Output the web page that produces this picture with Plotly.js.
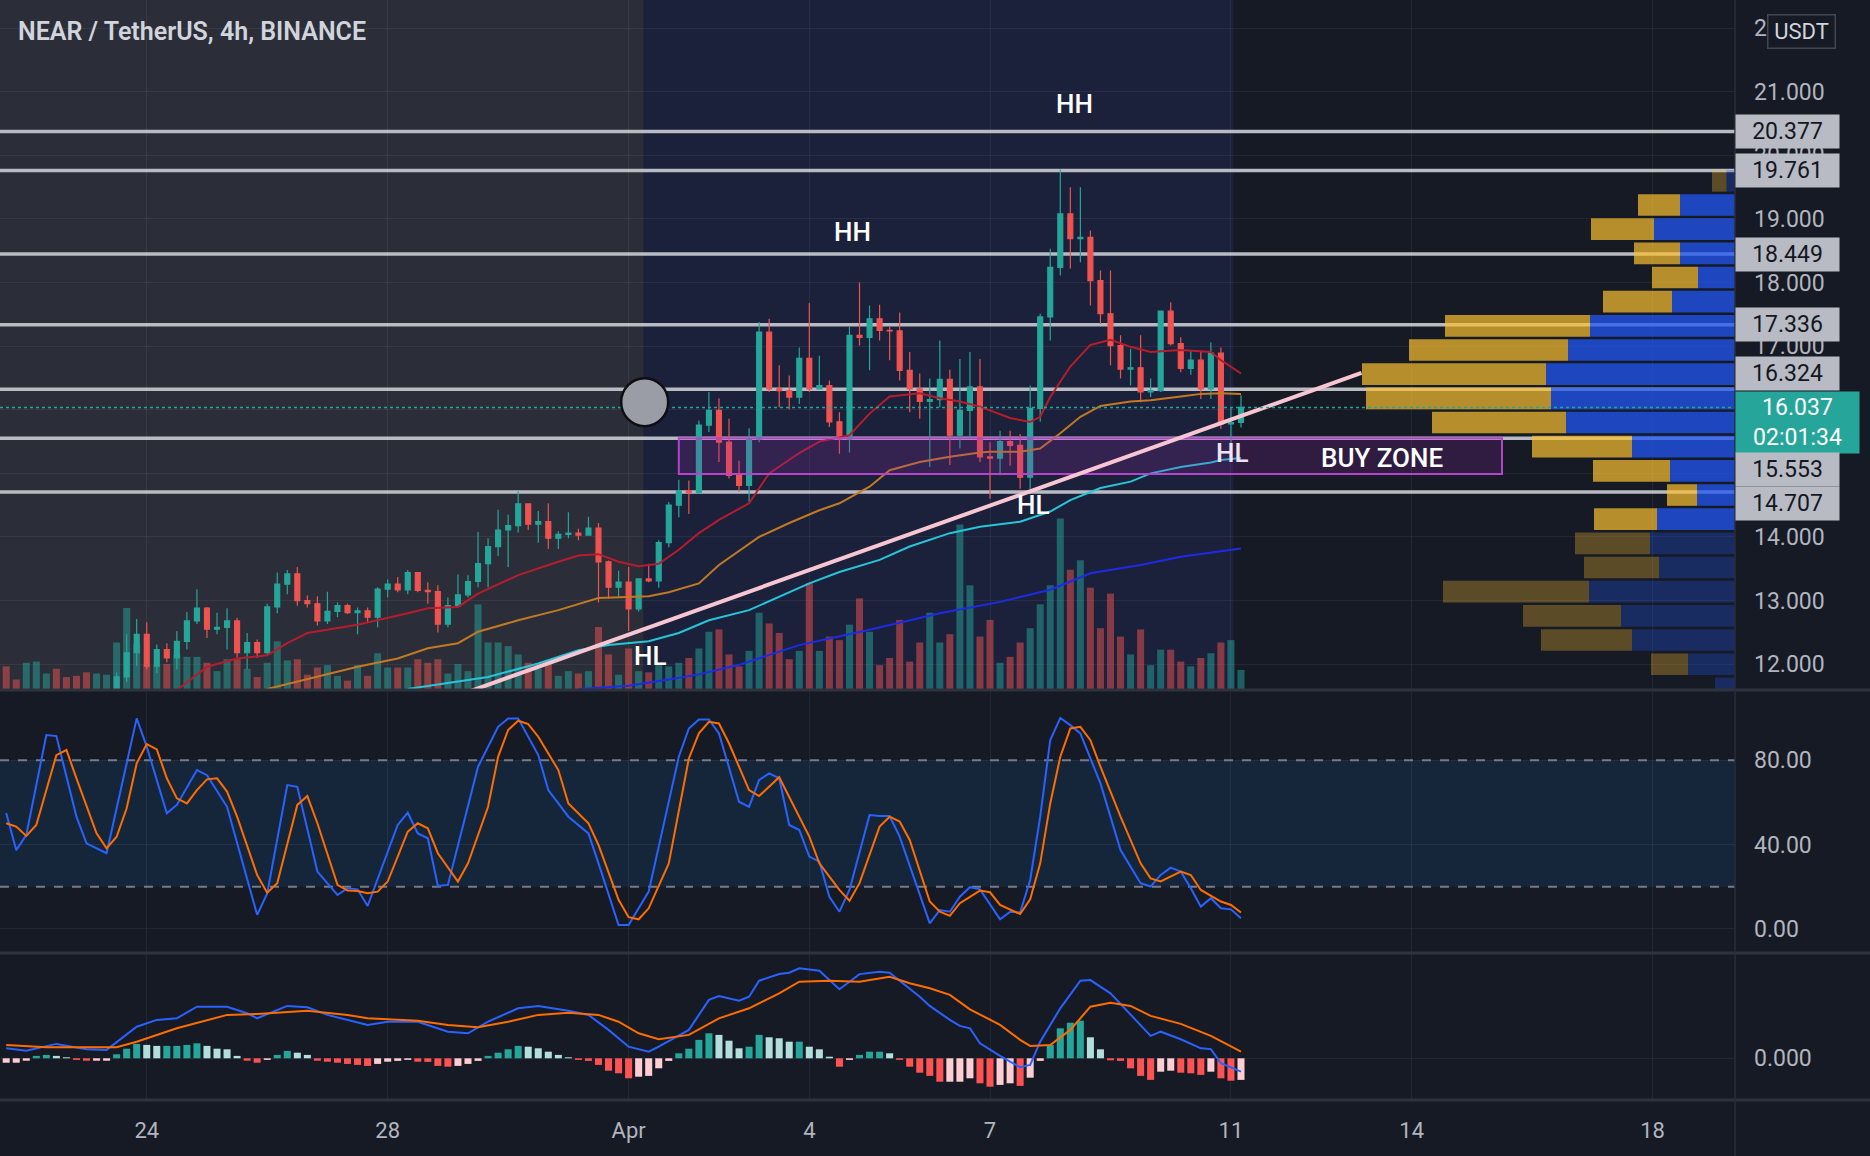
<!DOCTYPE html>
<html><head><meta charset="utf-8">
<script src="https://cdn.plot.ly/plotly-3.0.1.min.js"></script>
<style>html,body{margin:0;padding:0;background:#161a25;}#chart{width:1870px;height:1156px;}</style>
</head><body><div id="chart"></div>
<script>
// ---------- DATA ----------
const openP = [11.30,11.22,11.18,11.34,11.46,11.50,11.40,11.36,11.31,11.26,11.35,
11.45,11.80,12.18,12.47,11.97,12.23,12.10,12.36,12.68,12.88,
12.55,12.58,12.68,12.18,12.34,12.18,12.90,13.26,13.42,13.00,
12.95,12.68,12.83,12.92,12.81,12.84,12.74,13.18,13.26,13.17,
13.44,13.16,13.14,12.63,12.92,13.09,13.30,13.58,13.85,14.11,
14.18,14.52,14.20,14.24,13.98,14.04,14.06,14.03,14.14,13.61,
13.21,13.29,12.87,13.34,13.31,13.91,14.50,14.73,14.70,15.76,
15.99,15.49,14.97,14.81,15.54,17.22,16.33,16.30,16.20,16.81,
16.33,16.38,15.81,15.54,17.17,17.14,17.43,17.25,17.24,16.62,
16.33,16.13,16.16,16.48,15.60,15.99,16.36,15.26,15.24,15.50,
15.44,14.94,16.02,17.46,18.24,19.08,18.69,18.71,18.03,17.51,
17.01,16.64,16.66,16.28,16.30,17.55,17.04,16.65,16.78,16.33,
16.89,15.78,15.80];
const highP = [11.42,11.30,11.38,11.50,11.55,11.53,11.45,11.40,11.35,11.38,11.50,
11.87,12.47,12.71,12.66,12.31,12.33,12.52,12.82,13.18,12.90,
12.81,12.88,12.73,12.49,12.39,12.95,13.44,13.48,13.53,13.08,
13.07,13.14,12.97,12.95,12.89,12.89,13.21,13.33,13.37,13.48,
13.45,13.29,13.24,13.05,13.41,13.40,14.08,13.98,14.43,14.35,
14.72,14.53,14.41,14.53,14.09,14.39,14.13,14.32,14.22,13.63,
13.47,13.53,13.35,13.58,13.95,14.55,14.90,14.89,15.83,16.28,
16.18,15.86,15.20,15.71,17.38,17.43,16.70,16.54,16.98,17.68,
16.85,16.46,15.96,17.30,18.00,17.64,17.65,17.30,17.53,16.91,
16.57,16.49,17.09,16.63,16.80,16.91,16.80,15.49,15.67,15.67,
15.62,16.38,17.51,18.53,19.78,19.50,19.50,18.82,18.19,18.19,
17.17,16.96,17.17,16.49,17.56,17.69,17.14,16.93,16.93,17.06,
16.98,16.03,16.23];
const lowP = [11.20,11.15,11.16,11.30,11.40,11.36,11.33,11.28,11.22,11.24,11.32,
11.40,11.72,11.97,11.92,11.86,12.03,11.92,12.23,12.63,12.41,
12.47,12.23,12.10,11.92,12.10,12.15,12.80,13.10,12.92,12.89,
12.61,12.63,12.74,12.79,12.47,12.66,12.58,13.05,13.13,13.10,
13.13,12.95,12.50,12.58,12.89,13.05,13.21,13.21,13.70,13.53,
14.07,14.11,13.91,13.81,13.81,13.98,13.95,14.02,12.97,13.03,
13.05,12.52,12.83,13.29,13.20,13.84,14.31,14.36,14.68,15.65,
15.18,14.92,14.71,14.55,15.49,16.28,16.04,16.01,16.09,16.28,
16.32,15.73,15.31,15.33,17.01,16.62,17.09,16.78,16.46,15.96,
15.86,15.10,16.04,15.13,15.39,15.57,15.18,14.60,14.97,15.12,
14.76,14.76,15.81,17.09,18.11,18.22,18.32,17.64,17.35,16.70,
16.49,16.38,16.12,16.20,16.28,17.01,16.59,16.55,16.17,16.17,
15.70,15.45,15.72];
const closeP = [11.22,11.18,11.34,11.46,11.50,11.40,11.36,11.31,11.26,11.35,11.45,
11.80,12.18,12.47,11.97,12.23,12.10,12.36,12.68,12.88,12.55,
12.58,12.68,12.18,12.34,12.18,12.90,13.26,13.42,13.00,12.95,
12.68,12.83,12.92,12.81,12.84,12.74,13.18,13.26,13.17,13.44,
13.16,13.14,12.63,12.92,13.09,13.30,13.58,13.85,14.11,14.18,
14.52,14.20,14.24,13.98,14.04,14.06,14.03,14.14,13.61,13.21,
13.29,12.87,13.34,13.31,13.91,14.50,14.73,14.70,15.76,15.99,
15.49,14.97,14.81,15.54,17.22,16.33,16.30,16.20,16.81,16.33,
16.38,15.81,15.54,17.17,17.14,17.43,17.25,17.24,16.62,16.33,
16.13,16.16,16.48,15.60,15.99,16.36,15.26,15.24,15.50,15.44,
14.94,16.02,17.46,18.24,19.08,18.69,18.71,18.03,17.51,17.01,
16.64,16.66,16.28,16.30,17.55,17.04,16.65,16.78,16.33,16.89,
15.78,15.80,16.037];
const volume = [1.9,0.8,2.2,2.3,1.3,1.7,1.0,1.1,1.4,1.3,1.2,
3.9,6.8,3.8,2.0,2.0,2.1,2.9,2.7,2.7,2.2,
1.5,2.5,2.5,1.7,1.0,2.2,4.0,2.4,2.5,1.2,
1.8,2.0,1.1,0.7,2.0,1.1,3.0,1.8,1.8,1.8,
2.5,2.2,2.5,1.3,2.1,1.5,7.1,3.9,3.9,3.6,
2.9,2.2,1.7,2.2,1.1,1.5,1.3,1.5,5.2,2.9,
1.2,3.4,1.5,1.4,2.0,1.9,2.2,2.6,3.4,4.8,
5.0,2.9,1.9,3.2,6.4,5.5,4.7,2.5,3.2,8.9,
3.2,4.4,4.1,5.4,7.6,4.8,2.0,2.6,5.8,2.3,
3.9,6.4,3.9,4.6,13.8,8.7,4.4,5.8,2.2,2.7,
3.9,5.1,7.1,8.7,14.3,10.0,10.8,8.5,5.1,8.0,
4.4,2.9,5.0,2.0,3.3,3.3,2.3,1.9,2.6,3.0,
3.9,4.1,1.6];

// moving averages (candle index, value)
const maRedIdx = [17,20,23,26,28,30,35,37,40,42,45,47,51,55,57,59,61,63,65,67,69,71,74,76,79,81,84,86,88,91,93,95,97,100,102,103,104,106,108,110,112,114,117,120,121,123];
const maRed = [11.59,11.96,12.09,12.14,12.33,12.49,12.62,12.69,12.80,12.88,12.90,13.11,13.40,13.61,13.71,13.73,13.61,13.54,13.58,13.80,14.06,14.27,14.53,15.00,15.32,15.50,15.60,15.94,16.21,16.26,16.18,16.13,16.05,15.87,15.81,15.89,16.20,16.68,17.02,17.10,16.99,16.91,16.94,16.91,16.78,16.57];
const maOrangeIdx = [26,31,35,39,42,45,47,51,55,59,62,64,66,69,71,75,78,81,83,86,88,91,94,97,98,101,103,105,107,109,112,114,117,119,121,123];
const maOrange = [11.61,11.80,11.96,12.09,12.25,12.33,12.51,12.69,12.85,13.04,13.06,13.07,13.13,13.27,13.56,14.00,14.22,14.42,14.53,14.79,15.05,15.18,15.26,15.33,15.34,15.34,15.39,15.63,15.89,16.06,16.13,16.15,16.21,16.25,16.26,16.25];
const maCyanIdx = [40,44,48,53,57,60,64,67,70,74,77,80,83,87,90,94,97,101,104,106,109,112,114,117,120,121,123];
const maCyan = [11.61,11.70,11.80,12.01,12.22,12.30,12.36,12.49,12.69,12.85,13.06,13.27,13.45,13.64,13.85,14.06,14.16,14.24,14.40,14.58,14.77,14.87,15.00,15.10,15.17,15.21,15.24];
const maBlueIdx = [57,62,66,69,73,79,86,93,99,104,108,113,117,123];
const maBlue = [11.61,11.66,11.76,11.84,11.99,12.30,12.54,12.80,12.98,13.17,13.43,13.56,13.69,13.82];

// stochastic
const stochKIdx = [0,1,2,4,5,7,8,10,13,14,16,17,19,20,22,25,26,28,29,31,33,34,35,36,39,40,41,42,43,44,47,49,50,51,53,54,56,58,59,61,62,64,67,68,69,70,71,73,74,75,76,77,78,79,80,81,82,83,84,86,87,88,89,92,93,94,95,96,97,99,100,101,102,103,104,105,106,107,109,111,113,114,115,116,117,118,119,120,121,122,123];
const stochK = [55,37.4,44.5,91.9,91.4,53.2,40.6,35.9,99.8,86.4,54.8,58.8,75.3,72.9,57.9,6.7,16.9,68.2,67.4,27.2,16.1,19.3,18.8,10.9,49.3,55.1,45.3,43.0,20.4,20.9,76.9,95.8,99.8,99.8,82.4,65.8,53.2,45.3,31.1,1.9,1.9,17.7,81.6,95.0,99.3,99.3,92.7,60.3,57.9,70.6,73.7,71.4,49.3,46.9,34.3,31.9,15.3,8.2,18.5,54.0,53.5,53.5,43.8,2.7,9.0,8.2,15.3,19.8,18.8,4.6,8.2,7.8,23.2,53.2,89.5,100,96.6,92.7,69.0,37.4,21.7,20.1,25.6,29.1,27.2,19.3,10.6,14.6,9.8,9.3,5.1];
const stochDIdx = [0,1,2,3,5,6,7,9,10,11,12,13,14,15,16,17,18,19,20,21,22,23,25,26,27,29,30,31,33,34,35,36,37,38,40,41,42,43,45,46,48,49,50,51,52,53,55,56,58,59,61,62,63,64,66,68,69,70,71,72,74,75,77,78,80,81,83,84,85,87,88,89,90,92,93,94,95,97,98,99,101,102,103,104,105,106,107,108,109,111,113,114,115,117,118,119,121,122,123];
const stochD = [50.1,48.5,44.1,49.3,82.4,84.8,71.4,45.3,38.2,43.7,57.2,78.5,87.6,85.1,71.4,61.9,59.5,65.8,70.9,71.4,65.1,53.2,25.6,17.2,21.7,58.8,63.0,50.1,20.9,18.2,18.0,16.9,17.7,22.5,46.1,50.1,47.7,35.9,22.5,31.1,57.9,81.6,94.3,98.7,97.1,91.1,75.3,59.5,50.1,39.8,13.8,5.6,4.6,9.8,31.1,80.8,92.7,98.2,97.4,88.0,65.8,63.0,71.9,62.7,43.8,31.1,18.5,13.4,21.7,48.5,53.2,50.9,42.2,13,8.2,6.2,12.2,18.2,17.4,11.4,7.1,14.1,31.1,59.5,81.6,95.0,95.8,89.5,76.9,53.2,31.1,24.0,22.5,27.2,25.6,18.5,13.0,11.4,7.8];

// MACD
const macdIdx = [0,2,5,8,10,13,15,17,19,22,24,25,28,30,32,34,36,38,41,44,46,48,51,53,56,58,60,62,64,65,68,70,71,73,74,75,77,78,79,81,83,85,87,88,91,92,94,95,96,97,99,101,102,103,105,107,108,110,112,114,115,117,119,120,121,123];
const macdLine = [0.050,0.038,0.072,0.045,0.042,0.158,0.192,0.200,0.258,0.258,0.225,0.200,0.262,0.255,0.217,0.192,0.167,0.183,0.183,0.133,0.125,0.183,0.250,0.262,0.238,0.217,0.142,0.058,0.033,0.058,0.142,0.292,0.311,0.288,0.308,0.388,0.421,0.428,0.450,0.438,0.345,0.421,0.433,0.428,0.308,0.262,0.192,0.162,0.150,0.075,0.012,-0.045,-0.033,0.083,0.250,0.388,0.391,0.325,0.217,0.112,0.133,0.095,0.050,0.046,-0.025,-0.067];
const sigIdx = [0,4,11,13,17,22,25,28,30,34,36,41,44,47,50,53,56,59,61,63,65,68,71,74,77,79,82,85,88,90,92,94,96,99,101,102,104,106,108,110,112,114,117,120,123];
const sigLine = [0.067,0.055,0.055,0.083,0.150,0.217,0.222,0.233,0.238,0.217,0.200,0.188,0.167,0.155,0.183,0.217,0.228,0.217,0.183,0.125,0.095,0.117,0.200,0.250,0.325,0.383,0.388,0.383,0.408,0.375,0.350,0.317,0.245,0.167,0.092,0.062,0.066,0.142,0.258,0.278,0.262,0.212,0.172,0.112,0.033];
const macdHist = [-0.022,-0.022,-0.012,0.012,0.017,0.012,0.005,-0.008,-0.012,-0.012,
-0.012,0.020,0.048,0.072,0.067,0.062,0.062,0.062,0.067,0.075,
0.062,0.048,0.045,0.012,-0.012,-0.022,-0.008,0.017,0.037,0.028,
0.017,-0.012,-0.017,-0.022,-0.028,-0.033,-0.038,-0.028,-0.017,-0.013,
-0.008,-0.017,-0.018,-0.038,-0.042,-0.038,-0.028,-0.013,0.012,0.028,
0.045,0.062,0.058,0.050,0.033,0.017,0.005,-0.008,-0.013,-0.033,
-0.062,-0.075,-0.100,-0.092,-0.088,-0.050,-0.013,0.025,0.048,0.092,
0.125,0.117,0.088,0.050,0.058,0.117,0.105,0.100,0.083,0.083,
0.058,0.045,0.008,-0.042,-0.008,0.017,0.033,0.033,0.025,-0.008,
-0.042,-0.072,-0.088,-0.117,-0.117,-0.117,-0.100,-0.125,-0.142,-0.133,
-0.125,-0.138,-0.097,-0.013,0.067,0.150,0.178,0.188,0.105,0.045,
-0.010,-0.013,-0.050,-0.088,-0.108,-0.067,-0.062,-0.072,-0.075,-0.083,
-0.067,-0.100,-0.112,-0.108];

// volume profile rows
const vpPrice = [19.60,19.22,18.84,18.46,18.08,17.70,17.32,16.94,16.56,16.18,15.80,15.42,15.04,14.66,14.28,13.90,13.52,13.14,12.76,12.38,12.00,11.62];
const vpUp = [0.85,5.5,8.1,5.5,3.7,6.3,14.5,16.7,18.9,18.4,16.9,10.3,6.5,3.8,7.8,8.5,7.6,14.6,11.4,10.3,4.7,2.0];
const vpDown = [1.45,4.2,6.3,4.6,4.6,6.9,14.5,15.9,18.4,18.5,13.4,10.0,7.7,3.0,6.3,7.5,7.5,14.6,9.8,9.1,3.7,0];
const vpInValueArea = [false,true,true,true,true,true,true,true,true,true,true,true,true,true,true,false,false,false,false,false,false,false];

// levels and labels
const levels = [20.377,19.761,18.449,17.336,16.324,15.553,14.707];
const lastPrice = 16.037;
const countdown = '02:01:34';
const dateTickVals = ['2022-03-24','2022-03-28','2022-04-01','2022-04-04','2022-04-07','2022-04-11','2022-04-14','2022-04-18'];
const dateTickText = ['24','28','Apr','4','7','11','14','18'];
const priceTickText = '.3f';

// ---------- HELPERS ----------
const T0 = Date.UTC(2022, 2, 21, 16, 0);
const H4 = 4 * 3600 * 1000;
function ts(i){ return new Date(T0 + i * H4).toISOString().slice(0,19).replace('T',' '); }
const times = openP.map((_, i) => ts(i));
const xRange = ['2022-03-21 13:32', '2022-04-19 08:50'];

const UP = '#26a69a', DN = '#ef5350';
const volColors = openP.map((o, i) => closeP[i] >= o ? 'rgba(38,166,154,0.5)' : 'rgba(239,83,80,0.5)');
const histColors = macdHist.map((v, i) => {
  const p = i > 0 ? macdHist[i-1] : v;
  if (v >= 0) return v >= p ? '#26a69a' : '#b2dfdb';
  return v < p ? '#ff5252' : '#ffcdd2';
});

const traces = [];
traces.push({type:'bar', x:times, y:volume, xaxis:'x', yaxis:'y4', marker:{color:volColors, line:{width:0}}, width:0.7*H4, hoverinfo:'skip'});
traces.push({type:'candlestick', x:times, open:openP, high:highP, low:lowP, close:closeP, xaxis:'x', yaxis:'y',
  increasing:{line:{color:UP, width:1.2}, fillcolor:UP}, decreasing:{line:{color:DN, width:1.2}, fillcolor:DN}, whiskerwidth:0, hoverinfo:'skip'});
function ma(idx, vals, color){ return {type:'scatter', mode:'lines', x:idx.map(ts), y:vals, xaxis:'x', yaxis:'y', line:{color:color, width:2}, hoverinfo:'skip'}; }
traces.push(ma(maBlueIdx, maBlue, '#1e2be6'));
traces.push(ma(maCyanIdx, maCyan, '#26c6da'));
traces.push(ma(maOrangeIdx, maOrange, '#c27a22'));
traces.push(ma(maRedIdx, maRed, '#b71c2c'));
// volume profile
traces.push({type:'bar', orientation:'h', y:vpPrice, x:vpUp, xaxis:'x5', yaxis:'y', width:0.34,
  marker:{color:vpInValueArea.map(v => v ? 'rgba(33,87,243,0.75)' : 'rgba(33,87,243,0.3)'), line:{width:0}}, hoverinfo:'skip'});
traces.push({type:'bar', orientation:'h', y:vpPrice, x:vpDown, base:vpUp, xaxis:'x5', yaxis:'y', width:0.34,
  marker:{color:vpInValueArea.map(v => v ? 'rgba(251,192,45,0.7)' : 'rgba(251,192,45,0.3)'), line:{width:0}}, hoverinfo:'skip'});
// stochastic
traces.push({type:'scatter', mode:'lines', x:stochKIdx.map(ts), y:stochK, xaxis:'x', yaxis:'y2', line:{color:'#2962ff', width:2}, hoverinfo:'skip'});
traces.push({type:'scatter', mode:'lines', x:stochDIdx.map(ts), y:stochD, xaxis:'x', yaxis:'y2', line:{color:'#ff6d00', width:2}, hoverinfo:'skip'});
// macd
traces.push({type:'bar', x:times, y:macdHist, xaxis:'x', yaxis:'y3', marker:{color:histColors, line:{width:0}}, width:0.7*H4, hoverinfo:'skip'});
traces.push({type:'scatter', mode:'lines', x:macdIdx.map(ts), y:macdLine, xaxis:'x', yaxis:'y3', line:{color:'#2962ff', width:2}, hoverinfo:'skip'});
traces.push({type:'scatter', mode:'lines', x:sigIdx.map(ts), y:sigLine, xaxis:'x', yaxis:'y3', line:{color:'#ff6d00', width:2}, hoverinfo:'skip'});

// ---------- LAYOUT ----------
const GRID = 'rgba(255,255,255,0.06)';
const LBL = '#b2b5be';
const FONT = 'Roboto, "Noto Sans", sans-serif';
const mainDom = [0.37364, 1], stochDom = [0.13455, 0.37091], macdDom = [0, 0.13273];
const LEVEL_COL = '#b8bbc3';

const shapes = [];
// background highlight regions
shapes.push({type:'rect', xref:'x', yref:'paper', x0:xRange[0], x1:'2022-04-01 06:00', y0:mainDom[0], y1:1, fillcolor:'#2b2e38', line:{width:0}, layer:'below'});
shapes.push({type:'rect', xref:'x', yref:'paper', x0:'2022-04-01 06:00', x1:'2022-04-11 01:00', y0:mainDom[0], y1:1, fillcolor:'#1b213a', line:{width:0}, layer:'below'});
// stochastic band + dashed bounds
shapes.push({type:'rect', xref:'paper', yref:'y2', x0:0, x1:1, y0:20, y1:80, fillcolor:'rgba(33,150,243,0.1)', line:{width:0}, layer:'below'});
[20, 80].forEach(v => shapes.push({type:'line', xref:'x', yref:'y2', x0:xRange[0], x1:xRange[1], y0:v, y1:v, line:{color:'#787b86', width:2, dash:'dash'}, layer:'between'}));
// horizontal levels (drawn beneath the series and the volume profile)
levels.forEach(v => shapes.push({type:'line', xref:'paper', yref:'y', x0:0, x1:1, y0:v, y1:v, line:{color:LEVEL_COL, width:3.5}, layer:'below'}));
// buy zone
shapes.push({type:'rect', xref:'x', yref:'y', x0:ts(67.0), x1:ts(149.0), y0:14.99, y1:15.553, fillcolor:'rgba(156,39,176,0.2)', line:{color:'#b543cc', width:2}, layer:'above'});
// trend line
shapes.push({type:'line', xref:'x', yref:'y', x0:ts(46.3), y0:11.58, x1:ts(135.0), y1:16.58, line:{color:'#f8c6d2', width:4}, layer:'above'});
// last price dotted line
shapes.push({type:'line', xref:'paper', yref:'y', x0:0, x1:1, y0:lastPrice, y1:lastPrice, line:{color:'#26a69a', width:1.5, dash:'dot'}, layer:'above'});
// grey circle marker
shapes.push({type:'circle', xref:'x', yref:'y', xsizemode:'pixel', ysizemode:'pixel', xanchor:ts(63.6), yanchor:16.12, x0:-23.5, x1:23.5, y0:-24, y1:24, fillcolor:'#9a9da6', line:{color:'#0d0f14', width:2.5}, layer:'above'});
// pane separators
const RX = 1870/1735;
shapes.push({type:'line', xref:'paper', yref:'paper', x0:0, x1:RX, y0:0.37273, y1:0.37273, line:{color:'#2e323d', width:3}, layer:'above'});
shapes.push({type:'line', xref:'paper', yref:'paper', x0:0, x1:RX, y0:0.13364, y1:0.13364, line:{color:'#2e323d', width:3}, layer:'above'});
shapes.push({type:'line', xref:'paper', yref:'paper', x0:0, x1:RX, y0:0, y1:0, line:{color:'#2e323d', width:3}, layer:'above'});
shapes.push({type:'line', xref:'paper', yref:'paper', x0:1, x1:1, y0:-56/1100, y1:1, line:{color:'#2a2e39', width:1.5}, layer:'above'});

const annotations = [];
annotations.push({xref:'paper', yref:'paper', x:0, y:1, xanchor:'left', yanchor:'middle', xshift:16, yshift:-31, showarrow:false,
  text:'NEAR / TetherUS, 4h, BINANCE', font:{family:FONT, size:25, color:'#d1d4dc', weight:600}});
annotations.push({xref:'paper', yref:'paper', x:(1767)/1735, y:1, xanchor:'left', yanchor:'middle', yshift:-31, showarrow:false,
  text:'USDT', font:{family:FONT, size:22, color:'#d1d4dc'}, bgcolor:'#161a25', bordercolor:'#434651', borderwidth:1.5, borderpad:4, width:58, height:24});
// last price box
annotations.push({xref:'paper', yref:'y', x:1, y:lastPrice, xanchor:'left', yanchor:'middle', yshift:-15, showarrow:false,
  text:lastPrice.toFixed(3) + '<br>' + countdown, font:{family:FONT, size:23, color:'#ffffff'}, bgcolor:'#26a69a', borderpad:3, width:117, height:55, align:'center'});
// level labels, nudged apart on the price scale like the reference
const labelNudge = [0, 0, 0, 0, 15.5, -31, -11];
levels.forEach((v, k) => annotations.push({xref:'paper', yref:'y', x:1, y:v, xanchor:'left', yanchor:'middle', yshift:labelNudge[k], showarrow:false,
  text:v.toFixed(3), font:{family:FONT, size:23, color:'#131722'}, bgcolor:LEVEL_COL, borderpad:3, width:97, height:27, align:'center'}));
function tag(txt, i, p, col){ annotations.push({xref:'x', yref:'y', x:ts(i), y:p, text:txt, showarrow:false, font:{family:FONT, size:26, color:col || '#ffffff', weight:500}}); }
tag('HH', 84.3, 18.80);
tag('HH', 106.4, 20.81);
tag('HL', 64.2, 12.13);
tag('HL', 102.3, 14.50);
tag('HL', 122.2, 15.32, '#ece4f4');
tag('BUY ZONE', 137.0, 15.24);

const layout = {
  width:1870, height:1156,
  margin:{l:0, r:135, t:0, b:56, pad:0},
  paper_bgcolor:'#161a25', plot_bgcolor:'rgba(0,0,0,0)',
  showlegend:false, hovermode:false, barmode:'overlay', dragmode:false,
  font:{family:FONT, color:LBL, size:22},
  xaxis:{type:'date', range:xRange, anchor:'y3', tickmode:'array', tickvals:dateTickVals, ticktext:dateTickText,
    rangeslider:{visible:false},
    showgrid:true, gridcolor:GRID, gridwidth:1, showline:false, zeroline:false, ticks:'', ticklabelstandoff:15,
    tickfont:{family:FONT, size:22, color:LBL}, fixedrange:true},
  xaxis5:{overlaying:'x', anchor:'y', range:[173.5, 0], visible:false, fixedrange:true},
  yaxis4:{domain:mainDom, anchor:'x', range:[0, 57.8], visible:false, fixedrange:true},
  yaxis:{overlaying:'y4', anchor:'x', side:'right', range:[11.61, 22.443], tickmode:'linear', tick0:0, dtick:1, tickformat:priceTickText,
    showgrid:true, gridcolor:GRID, zeroline:false, showline:false, ticks:'', ticklabelstandoff:18,
    tickfont:{family:FONT, size:23, color:LBL}, fixedrange:true},
  yaxis2:{domain:stochDom, anchor:'x', side:'right', range:[-10.9, 112.3], tickmode:'array', tickvals:[0,40,80], ticktext:['0.00','40.00','80.00'],
    showgrid:true, gridcolor:GRID, zeroline:false, showline:false, ticks:'', ticklabelstandoff:18,
    tickfont:{family:FONT, size:23, color:LBL}, fixedrange:true},
  yaxis3:{domain:macdDom, anchor:'x', side:'right', range:[-0.2085, 0.5215], tickmode:'array', tickvals:[0], ticktext:['0.000'],
    showgrid:true, gridcolor:GRID, zeroline:false, showline:false, ticks:'', ticklabelstandoff:18,
    tickfont:{family:FONT, size:23, color:LBL}, fixedrange:true},
  shapes:shapes, annotations:annotations
};

Plotly.newPlot('chart', traces, layout, {staticPlot:true, displayModeBar:false});
</script></body></html>
